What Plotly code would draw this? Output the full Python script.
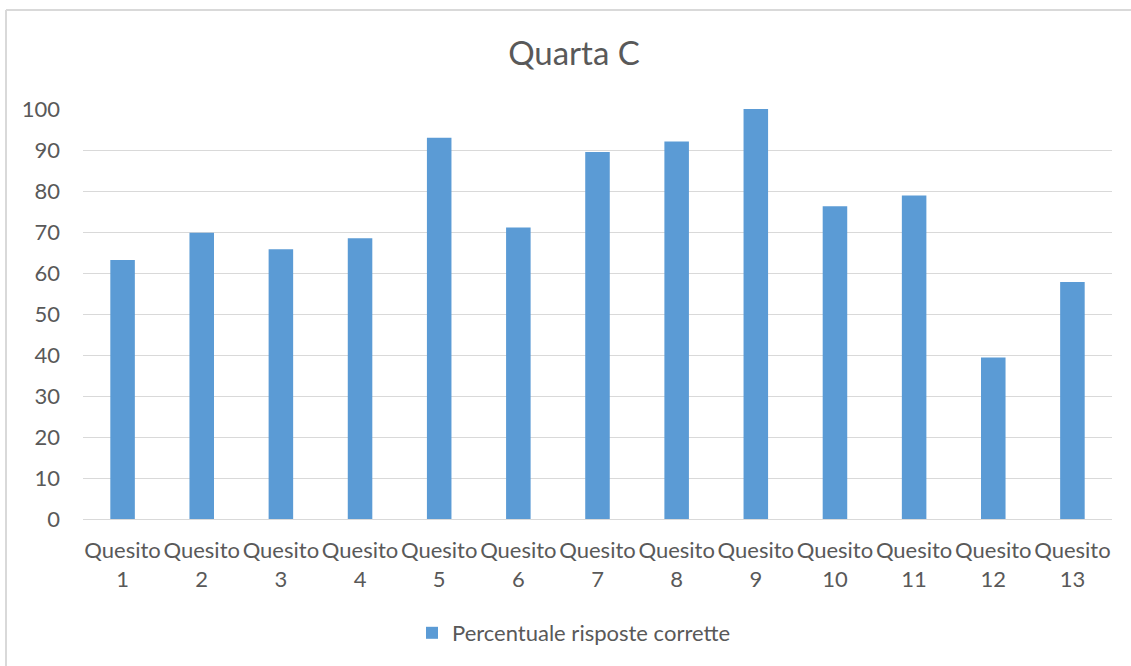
import plotly.graph_objects as go

categories = ["Quesito<br>1", "Quesito<br>2", "Quesito<br>3", "Quesito<br>4", "Quesito<br>5",
              "Quesito<br>6", "Quesito<br>7", "Quesito<br>8", "Quesito<br>9", "Quesito<br>10",
              "Quesito<br>11", "Quesito<br>12", "Quesito<br>13"]
values = [63.2, 69.8, 65.8, 68.5, 93.0, 71.1, 89.5, 92.1, 100.0, 76.3, 78.9, 39.4, 57.8]
series_name = "Percentuale risposte corrette"
y_ticks = list(range(0, 101, 10))

W, H = 1131, 666
L, R, T, B = 83, 19, 109, 147
pw, ph = W - L - R, H - T - B

def px_x(p):
    return (p - L) / pw

def px_y(p):
    return (H - B - p) / ph

TXT = "#595959"
FONT = "Lato"
FS = 22
FRAME = dict(color="#D9D9D9", width=2)

fig = go.Figure(go.Bar(
    x=categories, y=values, name=series_name,
    marker=dict(color="#5B9BD5", line=dict(color="#5B9BD5", width=0)),
    showlegend=True,
))

fig.update_layout(
    width=W, height=H,
    margin=dict(l=L, r=R, t=T, b=B),
    paper_bgcolor="white", plot_bgcolor="white",
    bargap=0.69,
    font=dict(family=FONT, color=TXT, size=FS),
    title=dict(text="Quarta C", x=574 / W, xanchor="center", xref="container",
               y=1 - 53 / H, yref="container", yanchor="middle",
               font=dict(family=FONT, size=33, color=TXT)),
    xaxis=dict(showgrid=False, showline=False, ticks="", tickangle=0, ticklabelstandoff=16,
               tickfont=dict(family=FONT, size=FS, color=TXT)),
    yaxis=dict(range=[0, 100], tickvals=y_ticks, showgrid=True, gridcolor="#D9D9D9",
               gridwidth=1.3, zeroline=True, zerolinecolor="#D9D9D9", zerolinewidth=1.3,
               showline=False, ticks="", ticklabelstandoff=22,
               tickfont=dict(family=FONT, size=FS, color=TXT)),
    legend=dict(orientation="h", x=px_x(574), xanchor="center", y=px_y(633), yanchor="middle",
                font=dict(family=FONT, size=FS, color=TXT)),
    shapes=[
        dict(type="line", xref="paper", yref="paper",
             x0=px_x(6), x1=px_x(1131), y0=px_y(10), y1=px_y(10), line=FRAME, layer="below"),
        dict(type="line", xref="paper", yref="paper",
             x0=px_x(6), x1=px_x(6), y0=px_y(10), y1=px_y(666), line=FRAME, layer="below"),
    ],
)

fig.write_html("out.html", config={"displayModeBar": False},
               post_script="document.body.style.margin='0';")
